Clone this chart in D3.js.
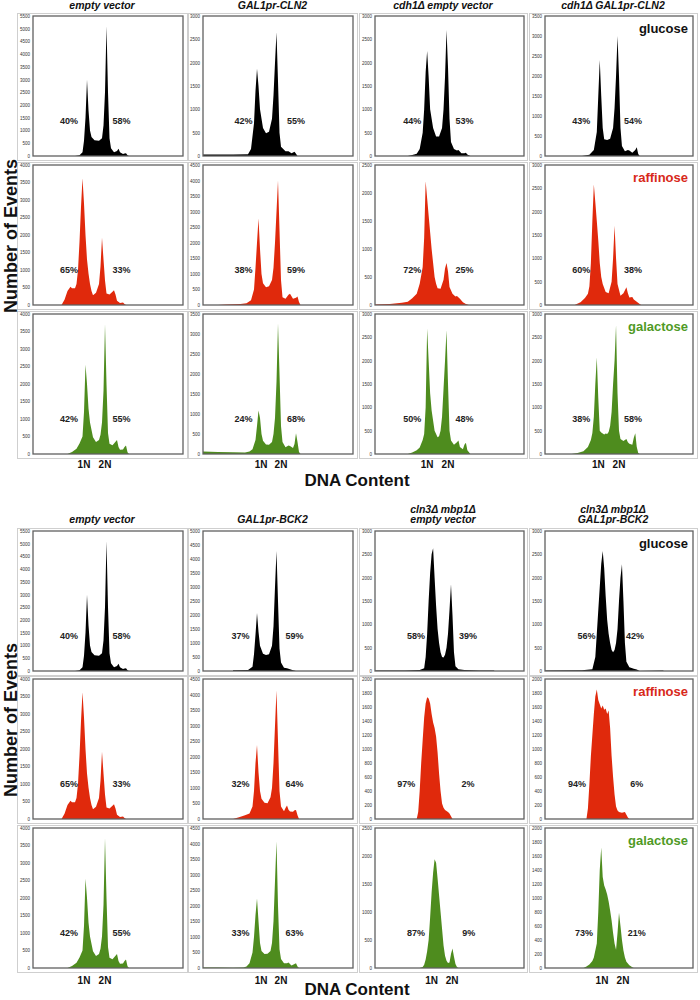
<!DOCTYPE html>
<html><head><meta charset="utf-8">
<script src="https://cdn.jsdelivr.net/npm/d3@7"></script>
<style>body{margin:0;background:#fff}svg{display:block}</style>
</head><body>
<script>
// ---------------- DATA ----------------
const conditions = ["glucose", "raffinose", "galactose"];
const topTitles = [["empty vector"], ["GAL1pr-CLN2"], ["cdh1\u0394 empty vector"], ["cdh1\u0394 GAL1pr-CLN2"]];
const bottomTitles = [["empty vector"], ["GAL1pr-BCK2"], ["cln3\u0394 mbp1\u0394", "empty vector"], ["cln3\u0394 mbp1\u0394", "GAL1pr-BCK2"]];
const ploidyLabels = ["1N", "2N"];

// histogram outlines: [DNA content (% of axis), number of events]
const evGlu = [[28,0],[31,30],[33,150],[34,600],[35,1500],[36,3000],[37,1800],[38,1000],[39,750],[41,620],[44,600],[46,700],[47,1200],[48,2500],[49,5100],[50,2500],[51,700],[52,300],[54,150],[56,200],[57,280],[58,150],[60,80],[61,100],[62,110],[63,30],[64,0]];
const evRaf = [[19,0],[21,150],[23,400],[25,520],[26,480],[28,480],[29,600],[30,1000],[31,1800],[32,2800],[33,3620],[34,2900],[35,2000],[36,1300],[37,900],[38,600],[39,400],[40,280],[42,350],[44,600],[45,1100],[46,1920],[47,1300],[48,700],[49,330],[51,300],[53,380],[54,420],[55,300],[56,120],[58,60],[60,70],[61,30],[62,0]];
const evGal = [[23,0],[26,60],[29,150],[31,300],[33,500],[34,1200],[35,2550],[36,2000],[37,1300],[38,900],[40,480],[42,340],[44,400],[45,550],[46,900],[47,1800],[48,3710],[49,2000],[50,600],[51,290],[53,250],[55,350],[56,400],[57,200],[58,120],[60,130],[61,200],[62,240],[63,50],[64,0]];
const cln2Glu = [[0,30],[20,30],[30,40],[32,150],[34,700],[35,1400],[36,1870],[37,1500],[38,1000],[40,600],[42,490],[44,520],[46,800],[47,1300],[48,2000],[49,2650],[50,1600],[51,500],[52,200],[55,100],[57,100],[59,60],[61,90],[62,50],[63,0]];
const cln2Raf = [[10,0],[15,20],[25,30],[29,60],[32,150],[34,500],[35,1200],[36,2000],[37,2780],[38,1800],[39,1000],[40,700],[42,570],[44,600],[46,800],[47,1200],[48,2000],[49,3000],[50,4000],[51,2400],[52,800],[53,250],[55,200],[57,330],[58,360],[60,200],[62,230],[63,270],[64,100],[65,0]];
const cln2Gal = [[0,60],[10,50],[20,45],[28,40],[31,60],[33,120],[35,350],[36,700],[37,1090],[38,900],[39,500],[40,330],[42,240],[44,230],[46,300],[47,500],[48,900],[49,1800],[50,3260],[51,2000],[52,700],[53,300],[55,170],[57,210],[58,200],[60,150],[61,250],[62,520],[63,300],[64,50],[65,0]];
const cdhEvGlu = [[22,0],[25,20],[28,50],[30,150],[32,500],[33,1000],[34,1800],[35,2250],[36,1700],[37,1000],[39,600],[41,420],[43,420],[45,600],[46,1000],[47,1700],[48,2700],[49,1900],[50,800],[51,300],[53,150],[55,120],[56,130],[58,60],[60,60],[61,70],[62,30],[64,0]];
const cdhEvRaf = [[0,10],[10,20],[18,40],[22,60],[25,120],[28,200],[30,380],[32,680],[33,1200],[34,2210],[35,1900],[36,1600],[37,1300],[38,1000],[39,750],[40,500],[41,380],[42,300],[44,290],[46,450],[47,650],[48,750],[49,600],[50,320],[52,200],[54,150],[55,160],[57,110],[59,50],[61,20],[63,0]];
const cdhEvGal = [[22,0],[25,30],[28,80],[30,140],[32,300],[33,430],[34,1000],[35,2690],[36,2000],[37,1300],[38,930],[40,500],[42,360],[43,380],[44,500],[45,800],[46,1400],[47,2000],[48,2650],[49,1500],[50,500],[51,290],[53,200],[55,250],[56,290],[57,150],[59,100],[60,200],[61,240],[62,80],[64,0]];
const cdhCln2Glu = [[25,0],[30,30],[33,150],[35,600],[36,1500],[37,2400],[38,1500],[39,700],[40,420],[42,400],[44,430],[46,700],[47,1200],[48,2000],[49,3000],[50,2000],[51,700],[52,250],[54,120],[56,150],[57,140],[59,80],[61,150],[62,220],[63,50],[64,0]];
const cdhCln2Raf = [[20,0],[24,60],[27,150],[29,240],[30,400],[31,900],[32,1800],[33,2580],[34,2200],[35,1800],[36,1380],[37,900],[38,600],[39,450],[41,280],[43,250],[45,500],[46,1000],[47,1700],[48,1000],[49,450],[51,200],[53,250],[55,380],[56,250],[57,160],[59,170],[60,120],[62,70],[64,20],[65,0]];
const cdhCln2Gal = [[18,0],[22,20],[26,60],[29,150],[31,300],[32,450],[33,800],[34,1500],[35,2070],[36,1200],[37,500],[38,460],[40,420],[41,440],[42,430],[43,470],[44,600],[45,900],[46,1500],[47,2000],[48,2760],[49,1300],[50,500],[51,320],[53,280],[55,320],[56,250],[57,220],[59,200],[60,350],[61,445],[62,150],[63,20],[64,0]];
const bck2Glu = [[20,30],[30,40],[33,150],[34,600],[35,1300],[36,2070],[37,1400],[38,900],[40,620],[42,570],[44,600],[46,900],[47,1600],[48,3000],[49,4290],[50,2500],[51,800],[52,300],[54,120],[56,100],[58,60],[60,30],[62,0]];
const bck2Raf = [[20,0],[24,60],[28,120],[31,180],[33,400],[34,900],[35,1800],[36,2380],[37,1500],[38,900],[39,650],[41,520],[43,510],[45,700],[46,1000],[47,1800],[48,3000],[49,4130],[50,2500],[51,900],[52,400],[54,250],[55,350],[56,430],[57,300],[58,240],[60,230],[61,280],[62,290],[63,120],[64,0]];
const bck2Gal = [[0,20],[10,15],[20,10],[27,20],[29,50],[31,150],[33,500],[34,1000],[35,1700],[36,2230],[37,1500],[38,800],[39,550],[41,450],[43,460],[45,550],[46,800],[47,1500],[48,2800],[49,4070],[50,2000],[51,600],[52,290],[54,150],[56,150],[57,180],[59,80],[61,130],[62,150],[63,50],[64,0]];
const cmEvGlu = [[0,10],[20,10],[30,20],[33,60],[34,300],[35,800],[36,1500],[37,2100],[38,2500],[39,2630],[40,2000],[41,1400],[42,900],[43,600],[44,400],[45,300],[46,290],[47,350],[48,500],[49,800],[50,1300],[51,1860],[52,1200],[53,400],[54,100],[56,40],[60,20],[70,10],[80,10]];
const cmEvRaf = [[28,0],[29,100],[30,400],[31,800],[32,1130],[33,1450],[34,1650],[35,1740],[36,1720],[37,1650],[38,1500],[39,1380],[40,1300],[41,1180],[42,950],[43,650],[44,400],[45,220],[46,160],[47,130],[49,100],[50,80],[51,40],[52,0]];
const cmEvGal = [[30,0],[32,20],[33,60],[34,150],[35,300],[36,500],[37,900],[38,1350],[39,1700],[40,1940],[41,1880],[42,1600],[43,1300],[44,1000],[45,700],[46,400],[47,220],[48,130],[49,90],[50,100],[51,250],[52,350],[53,200],[54,70],[55,20],[56,0]];
const cmBck2Glu = [[0,10],[25,15],[32,40],[34,300],[35,800],[36,1300],[37,1800],[38,2300],[39,2570],[40,2200],[41,1600],[42,1100],[43,800],[44,600],[45,450],[46,400],[47,450],[48,600],[49,900],[50,1500],[51,2000],[52,2290],[53,1500],[54,600],[55,200],[57,80],[60,50],[62,30],[64,0],[80,10]];
const cmBck2Raf = [[28,0],[29,150],[30,500],[31,900],[32,1200],[33,1500],[34,1750],[35,1850],[36,1700],[37,1640],[38,1580],[39,1620],[40,1560],[41,1580],[42,1500],[43,1550],[44,1300],[45,900],[46,600],[47,350],[48,180],[49,120],[50,100],[52,90],[54,100],[55,60],[56,20],[57,0]];
const cmBck2Gal = [[26,0],[28,20],[30,50],[32,100],[33,150],[34,250],[35,350],[36,800],[37,1400],[38,1720],[39,1300],[40,1180],[41,1120],[42,1050],[43,950],[44,820],[45,680],[46,500],[47,350],[48,260],[49,500],[50,790],[51,600],[52,400],[53,250],[54,150],[55,90],[57,40],[59,10],[60,0]];

// [row][col]
const topHists = [[evGlu, cln2Glu, cdhEvGlu, cdhCln2Glu], [evRaf, cln2Raf, cdhEvRaf, cdhCln2Raf], [evGal, cln2Gal, cdhEvGal, cdhCln2Gal]];
const bottomHists = [[evGlu, bck2Glu, cmEvGlu, cmBck2Glu], [evRaf, bck2Raf, cmEvRaf, cmBck2Raf], [evGal, bck2Gal, cmEvGal, cmBck2Gal]];
const topYMax = [[5500, 3000, 3000, 3500], [4000, 4500, 2500, 3000], [4000, 3500, 3000, 3000]];
const bottomYMax = [[5500, 5000, 3000, 3000], [4000, 4500, 2000, 2000], [4000, 4500, 2500, 2000]];
const topYStep = [[500, 500, 500, 500], [500, 500, 500, 500], [500, 500, 500, 500]];
const bottomYStep = [[500, 500, 500, 500], [500, 500, 200, 200], [500, 500, 500, 200]];
const topPct = [[["40%","58%"],["42%","55%"],["44%","53%"],["43%","54%"]],
                [["65%","33%"],["38%","59%"],["72%","25%"],["60%","38%"]],
                [["42%","55%"],["24%","68%"],["50%","48%"],["38%","58%"]]];
const bottomPct = [[["40%","58%"],["37%","59%"],["58%","39%"],["56%","42%"]],
                   [["65%","33%"],["32%","64%"],["97%","2%"],["94%","6%"]],
                   [["42%","55%"],["33%","63%"],["87%","9%"],["73%","21%"]]];
// annotation anchors on the DNA-content axis (%)
const topPctX = [[24, 59], [27, 62], [25, 60], [24.5, 59.5]];
const bottomPctX = [[[24,59],[25,61],[27.5,62.4],[28,60.8]], [[24,59],[25,61],[21,62.4],[21.6,62]], [[24,59],[25,61],[27.5,63],[26.4,62]]];
const topPloidyX = [[34, 48], [38.7, 52], [35, 49], [36, 50]];
const bottomPloidyX = [[34, 48], [38.7, 52], [38, 51.7], [38.5, 52.7]];

// ---------------- LAYOUT ----------------
const W = 700, H = 1000;
const svg = d3.select("body").append("svg").attr("width", W).attr("height", H)
  .style("font-family", "'Liberation Sans', Arial, sans-serif");

const fills = ["#000000", "#e0290c", "#4e8c1e"];
const condColors = ["#111111", "#d8281a", "#4f9a26"];
const colInner = [[33, 183], [203, 353], [375, 524], [545, 693]];
const colOuter = [[17, 187], [188, 357], [359, 527], [529, 697]];

const panels = [
  { titles: topTitles, hists: topHists, ymax: topYMax, ystep: topYStep, pct: topPct,
    pctX: [0,1,2].map(() => topPctX), ploidyX: topPloidyX,
    rowTops: [16, 165, 314], rowH: 140, titleY: 9, ploidyY: 468, dnaY: 486, noeY: 236 },
  { titles: bottomTitles, hists: bottomHists, ymax: bottomYMax, ystep: bottomYStep, pct: bottomPct,
    pctX: bottomPctX, ploidyX: bottomPloidyX,
    rowTops: [531, 679, 828], rowH: 140, titleY: 523, ploidyY: 984, dnaY: 995, noeY: 720 }
];

panels.forEach(P => {
  const g = svg.append("g");
  // column titles
  P.titles.forEach((lines, c) => {
    const cx = (colOuter[c][0] + colOuter[c][1]) / 2;
    lines.forEach((t, i) => {
      g.append("text").attr("x", cx).attr("y", P.titleY - (lines.length - 1 - i) * 10.5)
        .attr("text-anchor", "middle").attr("font-size", 10.5).attr("font-weight", "bold")
        .attr("font-style", "italic").attr("fill", "#111").text(t);
    });
  });
  P.rowTops.forEach((top, r) => {
    const bottom = top + P.rowH;
    colInner.forEach((ci, c) => {
      // outer cell
      g.append("rect").attr("x", colOuter[c][0] + 0.5).attr("y", top - 3 + 0.5)
        .attr("width", colOuter[c][1] - colOuter[c][0]).attr("height", P.rowH + 7)
        .attr("fill", "none").attr("stroke", "#cfcfcf").attr("stroke-width", 1);
      const x = d3.scaleLinear().domain([0, 100]).range([ci[0], ci[1]]);
      const y = d3.scaleLinear().domain([0, P.ymax[r][c]]).range([bottom, top]);
      const area = d3.area().x(d => x(d[0])).y0(y(0)).y1(d => y(d[1])).curve(d3.curveLinear);
      g.append("path").datum(P.hists[r][c]).attr("d", area).attr("fill", fills[r]);
      // frame
      g.append("rect").attr("x", ci[0]).attr("y", top).attr("width", ci[1] - ci[0]).attr("height", P.rowH)
        .attr("fill", "none").attr("stroke", "#606060").attr("stroke-width", 1.3);
      // y axis ticks
      const ax = g.append("g").attr("transform", `translate(${ci[0]},0)`)
        .call(d3.axisLeft(y).tickValues(d3.range(0, P.ymax[r][c] + 1, P.ystep[r][c]))
          .tickSize(0).tickPadding(3).tickFormat(d3.format("d")));
      ax.select(".domain").remove();
      ax.selectAll("text").attr("font-size", 4.5).attr("fill", "#333").attr("font-family", "'Liberation Sans', Arial, sans-serif");
      // percentages
      const px = P.pctX[r][c];
      P.pct[r][c].forEach((t, i) => {
        g.append("text").attr("x", x(px[i])).attr("y", top + 107.5).attr("text-anchor", "middle")
          .attr("font-size", 9).attr("font-weight", "bold").attr("fill", "#222").text(t);
      });
      // condition label
      if (c === 3) {
        g.append("text").attr("x", ci[1] - 5).attr("y", top + 17).attr("text-anchor", "end")
          .attr("font-size", 13).attr("font-weight", "bold").attr("fill", condColors[r]).text(conditions[r]);
      }
      // 1N / 2N
      if (r === 2) {
        ploidyLabels.forEach((t, i) => {
          g.append("text").attr("x", x(P.ploidyX[c][i])).attr("y", P.ploidyY).attr("text-anchor", "middle")
            .attr("font-size", 10).attr("font-weight", "bold").attr("fill", "#111").text(t);
        });
      }
    });
  });
  g.append("text").attr("x", 357).attr("y", P.dnaY).attr("text-anchor", "middle")
    .attr("font-size", 17).attr("font-weight", "bold").attr("fill", "#111").text("DNA Content");
  g.append("text").attr("transform", `translate(17,${P.noeY}) rotate(-90)`).attr("text-anchor", "middle")
    .attr("font-size", 18).attr("font-weight", "bold").attr("fill", "#111").text("Number of Events");
});
</script>
</body></html>
